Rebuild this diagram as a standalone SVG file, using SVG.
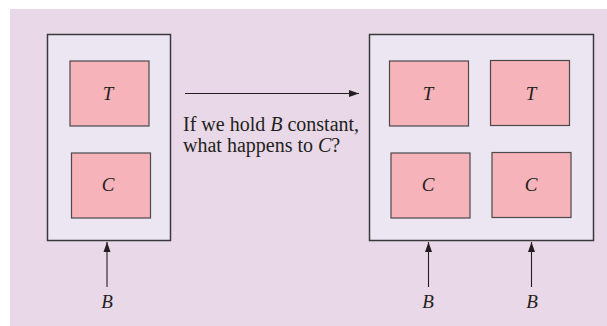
<svg xmlns="http://www.w3.org/2000/svg" width="607" height="326" viewBox="0 0 607 326">
<style>
.bg{fill:#e9d8e8}
.outer{fill:#ece6f2;stroke:#3a3a3a;stroke-width:1.5}
.cell{fill:#f6b3b9;stroke:#4a4a4a;stroke-width:1.2}
.lbl{font-family:"Liberation Serif",serif;font-style:italic;font-size:19px;fill:#231f20;text-anchor:middle}
.txt{font-family:"Liberation Serif",serif;font-size:20px;fill:#231f20}
.conn{stroke:#231f20;stroke-width:1.1;fill:none;marker-end:url(#ah)}
</style>
<defs>
<marker id="ah" viewBox="0 0 10 10" refX="10" refY="5" markerWidth="10" markerHeight="10" markerUnits="userSpaceOnUse" orient="auto">
<path d="M0,1.5 L10,5 L0,8.5 Z" fill="#231f20"/>
</marker>
</defs>
<rect class="bg" x="10" y="9" width="597" height="317"/>
<g id="left-box">
<rect class="outer" x="47.5" y="34.5" width="123" height="206"/>
</g>
<g id="left-T">
<rect class="cell" x="70" y="61" width="79" height="65"/>
<text class="lbl" x="108" y="100">T</text>
</g>
<g id="left-C">
<rect class="cell" x="71.5" y="153" width="79" height="65"/>
<text class="lbl" x="108" y="191">C</text>
</g>
<g id="left-B">
<text class="lbl" x="107" y="308">B</text>
</g>
<g id="right-box">
<rect class="outer" x="369.5" y="34.5" width="224" height="206"/>
</g>
<g id="right-T1">
<rect class="cell" x="389.5" y="61" width="79" height="65"/>
<text class="lbl" x="428" y="100">T</text>
</g>
<g id="right-T2">
<rect class="cell" x="490.5" y="60.5" width="79" height="65"/>
<text class="lbl" x="531" y="100">T</text>
</g>
<g id="right-C1">
<rect class="cell" x="391" y="153" width="79" height="65"/>
<text class="lbl" x="428" y="191">C</text>
</g>
<g id="right-C2">
<rect class="cell" x="492" y="152.5" width="79" height="65"/>
<text class="lbl" x="531" y="191">C</text>
</g>
<g id="right-B1">
<text class="lbl" x="428" y="308">B</text>
</g>
<g id="right-B2">
<text class="lbl" x="532" y="308">B</text>
</g>
<g id="caption">
<text class="txt" x="183" y="130.5">If we hold <tspan font-style="italic">B</tspan> constant,</text>
<text class="txt" x="183" y="152">what happens to <tspan font-style="italic">C</tspan>?</text>
</g>
<g id="connectors">
<line class="conn" x1="185" y1="93.5" x2="359" y2="93.5"/>
<line class="conn" x1="107" y1="287" x2="107" y2="242"/>
<line class="conn" x1="428.5" y1="287" x2="428.5" y2="242"/>
<line class="conn" x1="531.5" y1="287" x2="531.5" y2="242"/>
</g>
</svg>
